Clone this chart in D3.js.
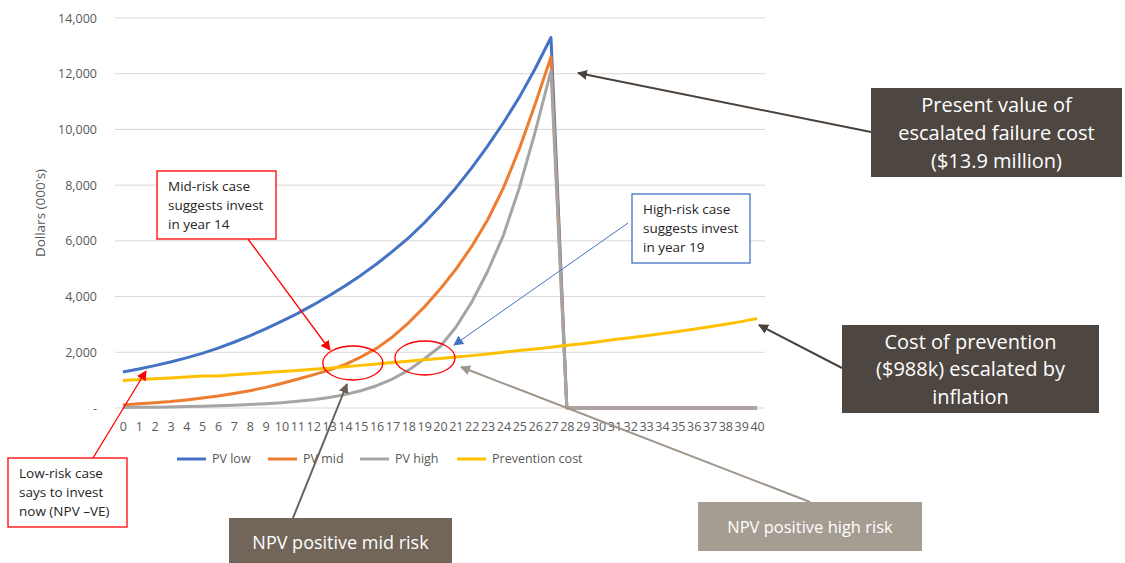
<!DOCTYPE html>
<html>
<head>
<meta charset="utf-8">
<script src="https://cdn.jsdelivr.net/npm/d3@7"></script>
<style>
  body { margin: 0; background: #fff; }
  text { font-family: "Open Sans", "Noto Sans", sans-serif; }
</style>
</head>
<body>
<div id="chart-area"></div>
<script>
const years = d3.range(0, 41);
const pvLow = [1290,1400,1520,1650,1800,1960,2150,2360,2590,2840,3110,3390,3700,4030,4380,4760,5170,5620,6100,6640,7240,7900,8620,9400,10240,11150,12180,13300,0,0,0,0,0,0,0,0,0,0,0,0,0];
const pvMid = [110,150,190,230,290,360,430,520,620,740,880,1030,1190,1360,1560,1830,2140,2550,3050,3620,4260,4980,5800,6750,7900,9300,10900,12600,0,0,0,0,0,0,0,0,0,0,0,0,0];
const pvHigh = [20,25,30,40,50,60,80,100,125,155,190,240,300,380,480,620,800,1040,1350,1760,2200,2900,3800,4900,6200,7900,9900,12100,0,0,0,0,0,0,0,0,0,0,0,0,0];
const prevention = [990,1020,1050,1080,1110,1145,1150,1190,1230,1270,1310,1350,1390,1430,1480,1530,1580,1630,1680,1730,1780,1830,1880,1940,2000,2060,2120,2180,2250,2310,2380,2460,2520,2590,2670,2750,2830,2920,3010,3100,3210];
const seriesNames = ["PV low", "PV mid", "PV high", "Prevention cost"];
const seriesColors = ["#4472C4", "#ED7D31", "#A5A5A5", "#FFC000"];
const yTicks = [0,2000,4000,6000,8000,10000,12000,14000];

const W = 1125, H = 563;
const plotL = 115, plotR = 765, plotT = 18, plotB = 408;

const svg = d3.select("#chart-area").append("svg")
  .attr("width", W).attr("height", H);

const x = d3.scalePoint().domain(years).range([plotL, plotR]).padding(0.5);
const y = d3.scaleLinear().domain([0, 14000]).range([plotB, plotT]);

// markers for arrows
const defs = svg.append("defs");
function marker(id, color, size) {
  defs.append("marker")
    .attr("id", id).attr("viewBox", "0 0 10 10")
    .attr("refX", 9).attr("refY", 5)
    .attr("markerWidth", size).attr("markerHeight", size)
    .attr("markerUnits", "userSpaceOnUse")
    .attr("orient", "auto")
    .append("path").attr("d", "M0,0 L10,5 L0,10 z").attr("fill", color);
}
marker("arRed", "#ff0000", 10);
marker("arBlue", "#4472C4", 10);
marker("arDark", "#4a423b", 10);
marker("arMid", "#6b6157", 10);
marker("arLight", "#9e958b", 10);

// gridlines
svg.append("g").selectAll("line").data(yTicks).join("line")
  .attr("x1", plotL).attr("x2", plotR)
  .attr("y1", d => y(d)).attr("y2", d => y(d))
  .attr("stroke", "#d9d9d9").attr("stroke-width", 1);

// axes
const yAxis = d3.axisLeft(y).tickValues(yTicks).tickSize(0).tickPadding(18)
  .tickFormat(d => d === 0 ? "-" : d3.format(",")(d));
svg.append("g").attr("transform", `translate(${plotL},0)`).call(yAxis)
  .call(g => g.select(".domain").remove())
  .selectAll("text").attr("font-size", 12.5).attr("fill", "#595959")
  .style("font-family", "'Open Sans', sans-serif");

const xAxis = d3.axisBottom(x).tickSize(0).tickPadding(14);
svg.append("g").attr("transform", `translate(0,${plotB})`).call(xAxis)
  .call(g => g.select(".domain").remove())
  .selectAll("text").attr("font-size", 12.5).attr("fill", "#595959")
  .style("font-family", "'Open Sans', sans-serif");

svg.append("text")
  .attr("transform", `translate(45,${(plotT + plotB) / 2}) rotate(-90)`)
  .attr("text-anchor", "middle").attr("font-size", 13.5).attr("fill", "#595959")
  .text("Dollars (000's)");

// lines
const series = [pvLow, pvMid, pvHigh, prevention];
const line = d3.line().x((d, i) => x(years[i])).y(d => y(d));
series.forEach((s, i) => {
  svg.append("path").datum(s)
    .attr("fill", "none")
    .attr("stroke", seriesColors[i])
    .attr("stroke-width", 3)
    .attr("stroke-linejoin", "round")
    .attr("d", line);
});

// legend
const legendX = [177, 268, 360, 457];
const legend = svg.append("g");
seriesNames.forEach((n, i) => {
  legend.append("line")
    .attr("x1", legendX[i]).attr("x2", legendX[i] + 29)
    .attr("y1", 459).attr("y2", 459)
    .attr("stroke", seriesColors[i]).attr("stroke-width", 3);
  legend.append("text")
    .attr("x", legendX[i] + 35).attr("y", 463)
    .attr("font-size", 12.5).attr("fill", "#595959")
    .text(n);
});

// ellipses around crossover points
const ellipses = [[14.5, 1615], [19.05, 1795]];
svg.append("g").selectAll("ellipse").data(ellipses).join("ellipse")
  .attr("cx", d => x(0) + d[0] * x.step())
  .attr("cy", d => y(d[1]))
  .attr("rx", 30).attr("ry", 17)
  .attr("fill", "none").attr("stroke", "#ff0000").attr("stroke-width", 1.3);

// arrows
function arrow(x1, y1, x2, y2, color, m, w) {
  svg.append("line")
    .attr("x1", x1).attr("y1", y1).attr("x2", x2).attr("y2", y2)
    .attr("stroke", color).attr("stroke-width", w)
    .attr("marker-end", `url(#${m})`);
}
arrow(248, 239, 330, 350, "#ff0000", "arRed", 1.3);
arrow(93, 458, 146, 371, "#ff0000", "arRed", 1.3);
arrow(628, 223, 454, 345, "#4472C4", "arBlue", 1);
arrow(871, 132, 578, 73, "#4a423b", "arDark", 2);
arrow(842, 368, 759, 325, "#4a423b", "arDark", 2);
arrow(293, 518, 347, 384, "#6b6157", "arMid", 2);
arrow(810, 502, 461, 367, "#9e958b", "arLight", 2);

// outlined callouts
function callout(x0, y0, w, h, color, lines) {
  svg.append("rect").attr("x", x0).attr("y", y0).attr("width", w).attr("height", h)
    .attr("fill", "#fff").attr("stroke", color).attr("stroke-width", 1.3);
  lines.forEach((t, i) => {
    svg.append("text").attr("x", x0 + 11).attr("y", y0 + 20 + i * 19)
      .attr("font-size", 13.5).attr("fill", "#262626").text(t);
  });
}
callout(157, 171, 119, 68, "#ff0000", ["Mid-risk case", "suggests invest", "in year 14"]);
callout(632, 194, 118, 69, "#4472C4", ["High-risk case", "suggests invest", "in year 19"]);
callout(8, 458, 119, 69, "#ff0000", ["Low-risk case", "says to invest", "now (NPV \u2013VE)"]);

// filled boxes
function box(x0, y0, w, h, fill, lines, fs, lh, cy) {
  svg.append("rect").attr("x", x0).attr("y", y0).attr("width", w).attr("height", h)
    .attr("fill", fill);
  const n = lines.length;
  lines.forEach((t, i) => {
    svg.append("text").attr("x", x0 + w / 2)
      .attr("y", cy + (i - (n - 1) / 2) * lh)
      .attr("dy", "0.35em")
      .attr("text-anchor", "middle").attr("font-size", fs).attr("fill", "#fff").text(t);
  });
}
box(871, 88, 251, 89, "#4e4640", ["Present value of", "escalated failure cost", "($13.9 million)"], 20, 28, 133);
box(842, 325, 257, 88, "#4e4640", ["Cost of prevention", "($988k) escalated by", "inflation"], 20, 27.5, 369);
box(229, 518, 223, 50, "#716659", ["NPV positive mid risk"], 18, 0, 543);
box(698, 502, 224, 49, "#a59c92", ["NPV positive high risk"], 16.5, 0, 527);
</script>
</body>
</html>
